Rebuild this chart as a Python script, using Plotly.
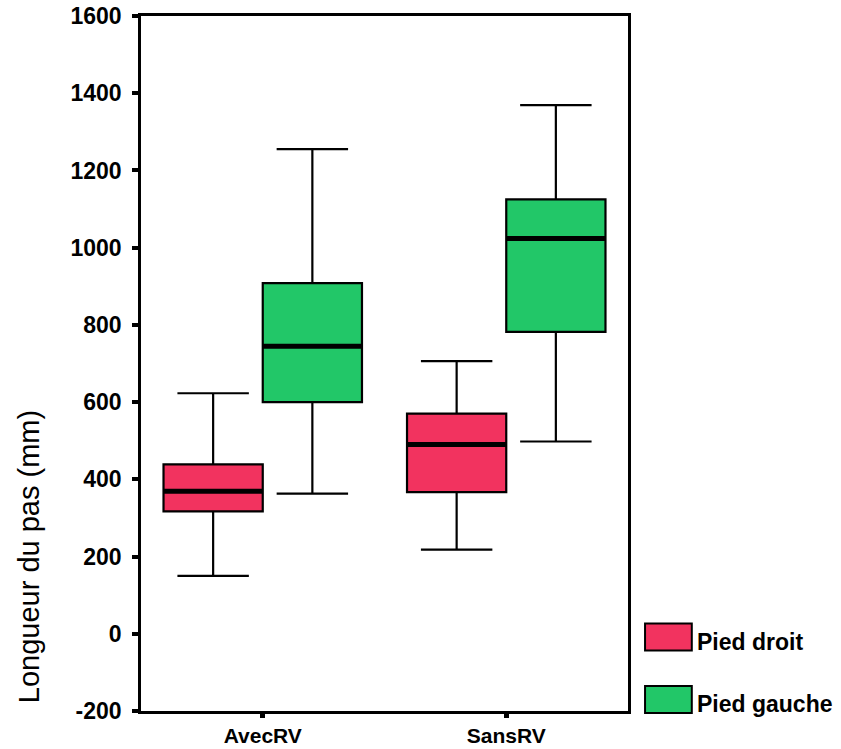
import plotly.graph_objects as go

# ---- data ----
categories = ["AvecRV", "SansRV"]
series_names = ["Pied droit", "Pied gauche"]
series_colors = ["#F2335F", "#22C768"]

droit_lower = [150, 218]
droit_q1 = [317, 367]
droit_median = [369, 490]
droit_q3 = [439, 570]
droit_upper = [623, 706]

gauche_lower = [363, 498]
gauche_q1 = [600, 782]
gauche_median = [745, 1024]
gauche_q3 = [908, 1125]
gauche_upper = [1255, 1369]

y_ticks = [-200, 0, 200, 400, 600, 800, 1000, 1200, 1400, 1600]
y_tick_labels = [str(v) for v in y_ticks]

stats = [
    (droit_lower, droit_q1, droit_median, droit_q3, droit_upper),
    (gauche_lower, gauche_q1, gauche_median, gauche_q3, gauche_upper),
]

FONT = "Liberation Sans"

fig = go.Figure()
for name, color, (lo, a, m, b, hi) in zip(series_names, series_colors, stats):
    fig.add_trace(go.Box(
        x=categories, lowerfence=lo, q1=a, median=m, q3=b, upperfence=hi,
        name=name, fillcolor=color, line=dict(color="black", width=2.2),
        whiskerwidth=0.72, boxpoints=False, offsetgroup=name,
        showlegend=False, hoverinfo="skip",
    ))
for name, m in zip(series_names, [droit_median, gauche_median]):
    fig.add_trace(go.Box(
        x=categories, lowerfence=m, q1=m, median=m, q3=m, upperfence=m,
        name=name + " médiane", fillcolor="rgba(0,0,0,0)",
        line=dict(color="black", width=5), whiskerwidth=0.72,
        boxpoints=False, offsetgroup=name, showlegend=False, hoverinfo="skip",
    ))

# legend drawn by hand (large swatches as in the reference)
legend_y = [0.1065, 0.0165]
for name, color, yc in zip(series_names, series_colors, legend_y):
    fig.add_shape(type="rect", xref="paper", yref="paper",
                  x0=1.035, x1=1.131, y0=yc - 0.0195, y1=yc + 0.0195,
                  fillcolor=color, line=dict(color="black", width=2))
    fig.add_annotation(xref="paper", yref="paper", x=1.137, y=yc - 0.007,
                       text=name, showarrow=False, xanchor="left", yanchor="middle",
                       font=dict(family=FONT, size=23, color="black", weight="bold"))

fig.add_annotation(xref="paper", yref="paper", x=-0.231, y=0.222,
                   text="Longueur du pas (mm)", textangle=-90, showarrow=False,
                   xanchor="center", yanchor="middle",
                   font=dict(family=FONT, size=29, color="black"))

fig.update_layout(
    width=841, height=749,
    margin=dict(l=141, r=213, t=16, b=38, autoexpand=False),
    paper_bgcolor="white", plot_bgcolor="white",
    boxmode="group", boxgap=0.185, boxgroupgap=0,
    font=dict(family=FONT, size=22, color="black"),
)
fig.update_xaxes(
    type="category", range=[-0.5, 1.5], automargin=False,
    showline=True, linecolor="black", linewidth=2.5, mirror=True,
    ticks="outside", ticklen=4, tickwidth=5, tickcolor="black",
    showgrid=False, zeroline=False, ticklabelstandoff=0,
    tickfont=dict(family=FONT, size=21, weight="bold"),
)
fig.update_yaxes(
    range=[-200, 1600], tickvals=y_ticks, ticktext=y_tick_labels, automargin=False,
    showline=True, linecolor="black", linewidth=2.5, mirror=True,
    ticks="outside", ticklen=6, tickwidth=4, tickcolor="black",
    showgrid=False, zeroline=False, ticklabelstandoff=6,
    tickfont=dict(family=FONT, size=23, weight="bold"),
)

fig.write_html("out.html")
